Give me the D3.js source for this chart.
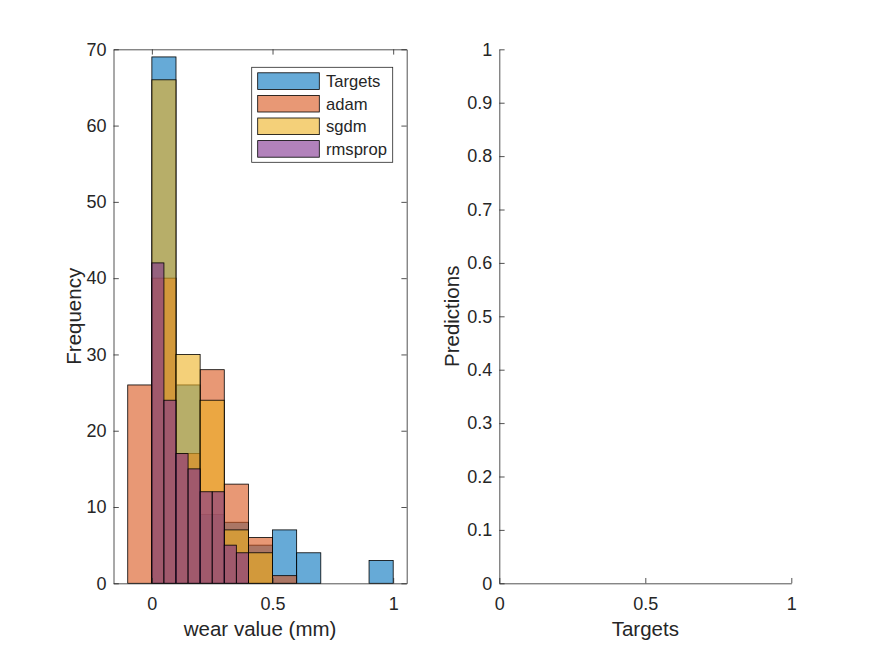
<!DOCTYPE html>
<html>
<head>
<meta charset="utf-8">
<script src="https://cdn.jsdelivr.net/npm/d3@7"></script>
<style>
  body { margin: 0; background: #fff; }
  text { font-family: "Liberation Sans", Arial, sans-serif; fill: #262626; }
</style>
</head>
<body>
<div id="fig"></div>
<script>
// histogram bins (left edge of every bin and its count)
var targetEdges = [0, 0.1, 0.2, 0.3, 0.4, 0.5, 0.6, 0.7, 0.8, 0.9, 1.0];
var targetCounts = [69, 26, 9, 8, 5, 7, 4, 0, 0, 3];

var adamEdges = [-0.1, 0, 0.1, 0.2, 0.3, 0.4, 0.5, 0.6];
var adamCounts = [26, 40, 17, 28, 13, 6, 1];

var sgdmEdges = [0, 0.1, 0.2, 0.3, 0.4, 0.5];
var sgdmCounts = [66, 30, 24, 7, 4];

var rmspropEdges = [0, 0.05, 0.1, 0.15, 0.2, 0.25, 0.3, 0.35, 0.4];
var rmspropCounts = [42, 24, 17, 15, 12, 12, 5, 4];

var seriesNames = ["Targets", "adam", "sgdm", "rmsprop"];
var seriesColors = ["#0072BD", "#D95319", "#EDB120", "#7E2F8E"];

var histXTicks = [0, 0.5, 1];
var histYTicks = [0, 10, 20, 30, 40, 50, 60, 70];
var predXTicks = [0, 0.5, 1];
var predYTicks = [0, 0.1, 0.2, 0.3, 0.4, 0.5, 0.6, 0.7, 0.8, 0.9, 1];

var W = 875, H = 656;
var axColor = "#262626";
var tickFont = "18px", labelFont = "20.5px", legendFont = "16.6px";
var tickLen = 5.3;

var svg = d3.select("#fig").append("svg")
  .attr("width", W)
  .attr("height", H);

/* ---------- left axes: overlapping histograms ---------- */
var L = { left: 113.5, right: 406.7, top: 49.3, bottom: 583.3 };

var x = d3.scaleLinear().domain([-0.159, 1.056]).range([L.left, L.right]);
var y = d3.scaleLinear().domain([0, 70]).range([L.bottom, L.top]);

function toBins(edges, counts) {
  var bins = [];
  for (var i = 0; i < counts.length; i++) {
    if (counts[i] > 0) bins.push({ x0: edges[i], x1: edges[i + 1], n: counts[i] });
  }
  return bins;
}

var allSeries = [
  toBins(targetEdges, targetCounts),
  toBins(adamEdges, adamCounts),
  toBins(sgdmEdges, sgdmCounts),
  toBins(rmspropEdges, rmspropCounts)
];

var hist = svg.append("g").attr("class", "hist");

allSeries.forEach(function(bins, s) {
  hist.append("g")
    .selectAll("rect")
    .data(bins)
    .enter().append("rect")
    .attr("x", function(d) { return x(d.x0); })
    .attr("y", function(d) { return y(d.n); })
    .attr("width", function(d) { return x(d.x1) - x(d.x0); })
    .attr("height", function(d) { return y(0) - y(d.n); })
    .style("fill", seriesColors[s])
    .style("fill-opacity", 0.6)
    .style("stroke", "#000")
    .style("stroke-width", 0.8);
});

// box with ticks on all four sides, pointing inwards
var xAxisB = d3.axisBottom(x).tickValues(histXTicks).tickSizeInner(-tickLen).tickSizeOuter(0)
  .tickPadding(14).tickFormat(d3.format("~g"));
var xAxisT = d3.axisTop(x).tickValues(histXTicks).tickSizeInner(-tickLen).tickSizeOuter(0)
  .tickFormat("");
var yAxisL = d3.axisLeft(y).tickValues(histYTicks).tickSizeInner(-tickLen).tickSizeOuter(0)
  .tickPadding(7);
var yAxisR = d3.axisRight(y).tickValues(histYTicks).tickSizeInner(-tickLen).tickSizeOuter(0)
  .tickFormat("");

function styleAxis(g) {
  g.select(".domain").attr("stroke", axColor).attr("stroke-width", 0.8);
  g.selectAll(".tick line").attr("stroke", axColor).attr("stroke-width", 0.8);
  g.selectAll(".tick text").style("font-size", tickFont).attr("fill", axColor);
  g.attr("font-family", null).attr("font-size", null);
}

svg.append("g").attr("transform", "translate(0," + L.bottom + ")").call(xAxisB).call(styleAxis);
svg.append("g").attr("transform", "translate(0," + L.top + ")").call(xAxisT).call(styleAxis);
svg.append("g").attr("transform", "translate(" + L.left + ",0)").call(yAxisL).call(styleAxis);
svg.append("g").attr("transform", "translate(" + L.right + ",0)").call(yAxisR).call(styleAxis);

svg.append("text")
  .attr("x", (L.left + L.right) / 2)
  .attr("y", 636)
  .attr("text-anchor", "middle")
  .style("font-size", labelFont)
  .text("wear value (mm)");

svg.append("text")
  .attr("transform", "translate(80.5," + (L.top + L.bottom) / 2 + ") rotate(-90)")
  .attr("text-anchor", "middle")
  .style("font-size", labelFont)
  .text("Frequency");

// legend
var leg = svg.append("g").attr("transform", "translate(251.7,67.3)");
leg.append("rect")
  .attr("width", 141)
  .attr("height", 95)
  .style("fill", "#fff")
  .style("stroke", axColor)
  .style("stroke-width", 0.8);

var legRow = leg.selectAll(".legrow")
  .data(seriesNames)
  .enter().append("g")
  .attr("class", "legrow")
  .attr("transform", function(d, i) { return "translate(0," + (5.5 + i * 22.6) + ")"; });

legRow.append("rect")
  .attr("x", 6)
  .attr("width", 61.6)
  .attr("height", 16.6)
  .style("fill", function(d, i) { return seriesColors[i]; })
  .style("fill-opacity", 0.6)
  .style("stroke", "#000")
  .style("stroke-width", 0.8);

legRow.append("text")
  .attr("x", 74.3)
  .attr("y", 8.3)
  .attr("dy", "0.35em")
  .style("font-size", legendFont)
  .text(function(d) { return d; });

/* ---------- right axes: empty predictions plot ---------- */
var R = { left: 499.3, right: 791.3, top: 49.3, bottom: 583.3 };

var px = d3.scaleLinear().domain([0, 1]).range([R.left, R.right]);
var py = d3.scaleLinear().domain([0, 1]).range([R.bottom, R.top]);

svg.append("g")
  .attr("transform", "translate(0," + R.bottom + ")")
  .call(d3.axisBottom(px).tickValues(predXTicks).tickSizeInner(-tickLen).tickSizeOuter(0)
    .tickPadding(14).tickFormat(d3.format("~g")))
  .call(styleAxis);

svg.append("g")
  .attr("transform", "translate(" + R.left + ",0)")
  .call(d3.axisLeft(py).tickValues(predYTicks).tickSizeInner(-tickLen).tickSizeOuter(0)
    .tickPadding(7).tickFormat(d3.format("~g")))
  .call(styleAxis);

svg.append("text")
  .attr("x", (R.left + R.right) / 2)
  .attr("y", 636)
  .attr("text-anchor", "middle")
  .style("font-size", labelFont)
  .text("Targets");

svg.append("text")
  .attr("transform", "translate(459," + (R.top + R.bottom) / 2 + ") rotate(-90)")
  .attr("text-anchor", "middle")
  .style("font-size", labelFont)
  .text("Predictions");
</script>
</body>
</html>
